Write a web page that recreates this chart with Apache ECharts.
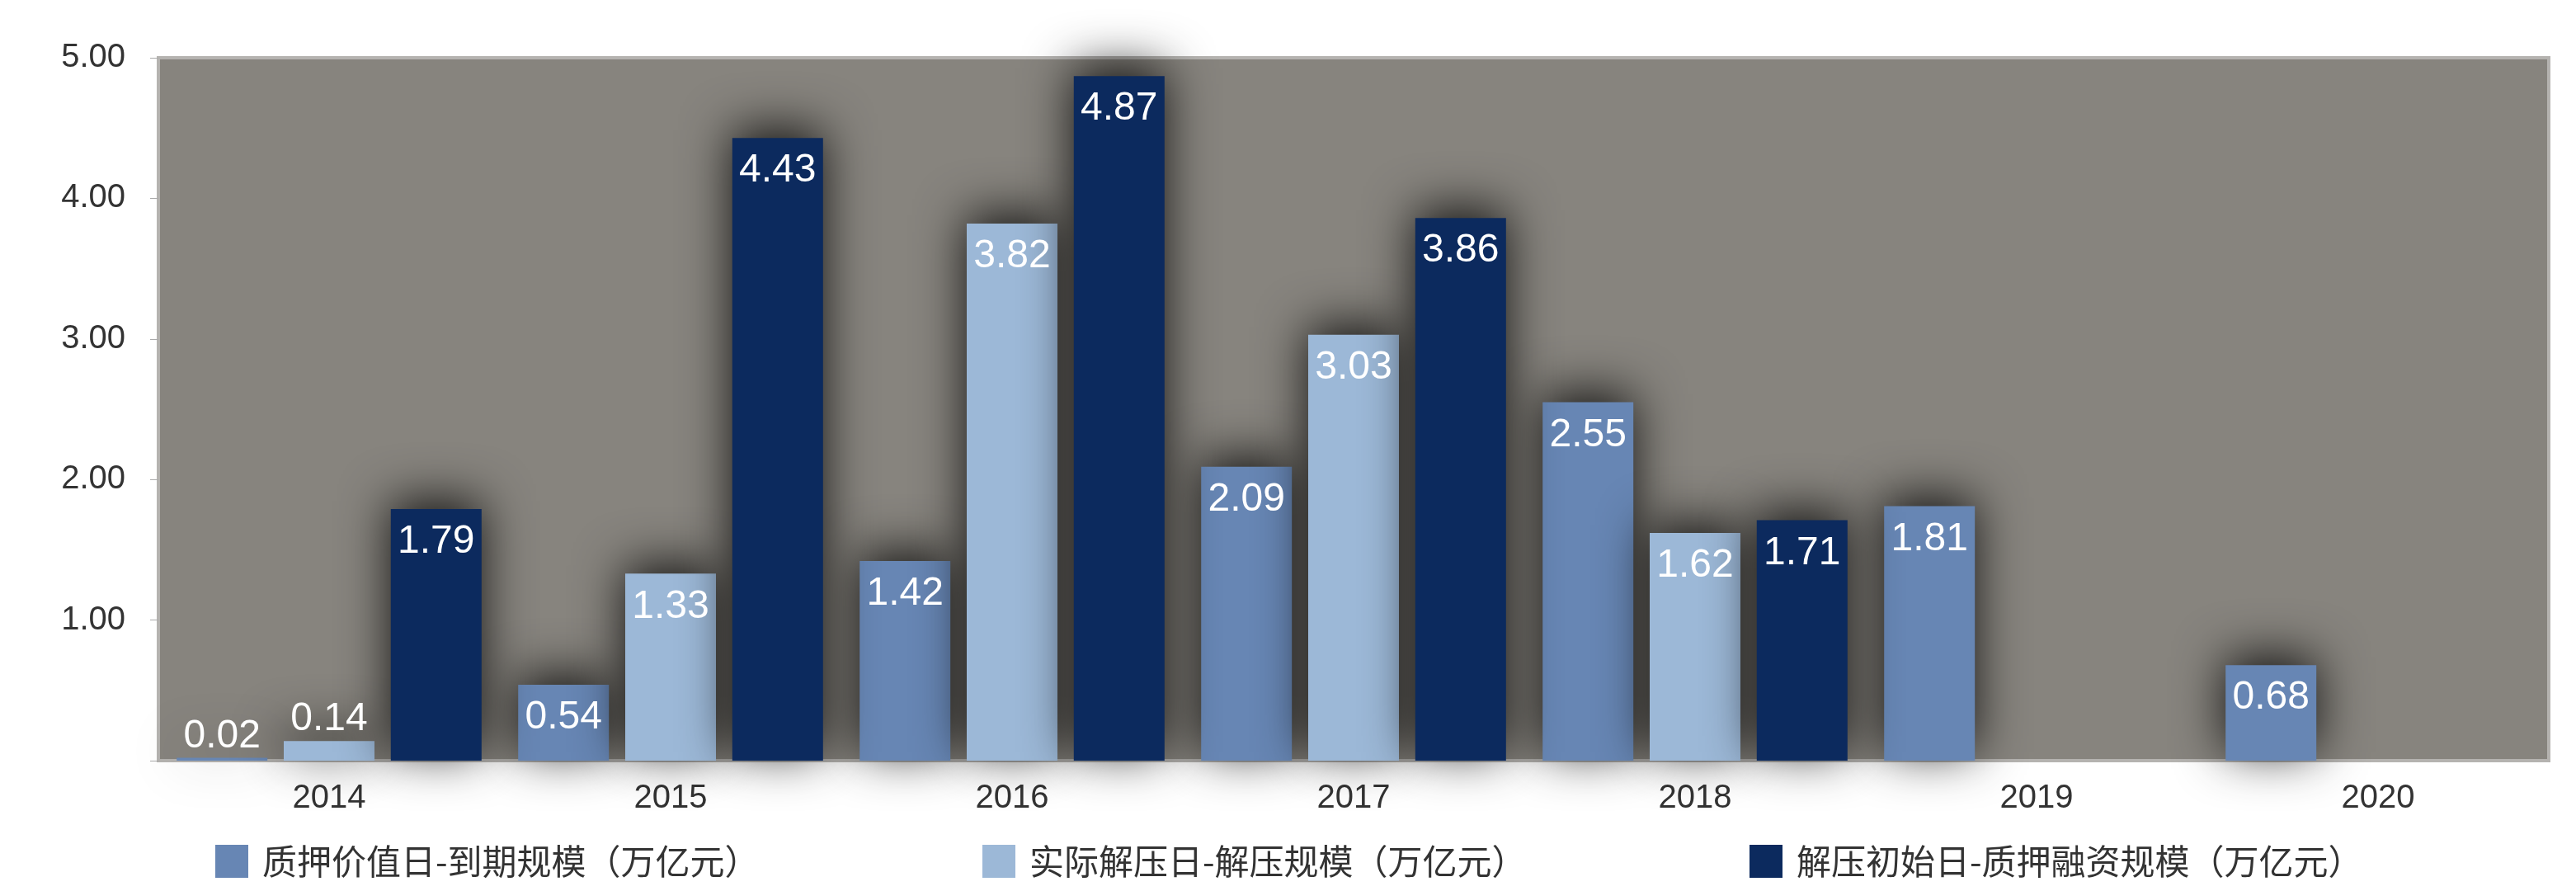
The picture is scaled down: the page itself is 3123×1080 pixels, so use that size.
<!DOCTYPE html>
<html><head><meta charset="utf-8">
<script src="https://cdn.jsdelivr.net/npm/echarts@6/dist/echarts.min.js"></script>
<style>html,body{margin:0;background:#fff}#c{width:3123px;height:1080px}</style>
</head><body><div id="c"></div>
<script>
const categories = ['2014','2015','2016','2017','2018','2019','2020'];
const seriesNames = ['质押价值日-到期规模（万亿元）','实际解压日-解压规模（万亿元）','解压初始日-质押融资规模（万亿元）'];
const maturity = [0.02, 0.54, 1.42, 2.09, 2.55, 1.81, 0.68];
const released = [0.14, 1.33, 3.82, 3.03, 1.62, null, null];
const initial = [1.79, 4.43, 4.87, 3.86, 1.71, null, null];
const colors = ['#6786b4','#9cb8d7','#0c2a5e'];
const chart = echarts.init(document.getElementById('c'));
function mk(i, arr){
  return {
    name: seriesNames[i], type:'bar', data: arr.map(v => v === null ? null : (v < 0.3 ? {value:v, label:{position:'top', distance:2}} : v)),
    barWidth:110, barGap:'18%',
    itemStyle:{color:colors[i], shadowBlur:60, shadowColor:'rgba(0,0,0,0.85)', shadowOffsetY:-10},
    label:{show:true, position:'insideTop', distance:16, color:'#fff', fontSize:48, fontFamily:'Liberation Sans, Arial', formatter: p => p.value.toFixed(2)}
  };
}
const legBase = {icon:'rect', itemWidth:40, itemHeight:40, bottom:10, textStyle:{fontSize:42, color:'#333', fontFamily:'Noto Sans CJK SC', padding:[0,0,0,12]}};
chart.setOption({
  animation:false,
  grid:{left:192, right:33, top:70, bottom:158, show:true, backgroundColor:'#87847e', borderColor:'#b5b3b0', borderWidth:4},
  legend:[
    Object.assign({left:256, data:[seriesNames[0]]}, legBase),
    Object.assign({left:1186, data:[seriesNames[1]]}, legBase),
    Object.assign({left:2116, data:[seriesNames[2]]}, legBase)
  ],
  xAxis:{type:'category', data:categories, axisLine:{show:false}, axisTick:{show:false},
    axisLabel:{fontSize:40, color:'#333', margin:26, fontFamily:'Liberation Sans, Arial'}},
  yAxis:{type:'value', min:0, max:5, interval:1, splitLine:{show:false},
    axisLine:{show:false}, axisTick:{show:true, length:10, lineStyle:{color:'#aaa'}},
    axisLabel:{fontSize:40, color:'#333', margin:40, fontFamily:'Liberation Sans, Arial', formatter: v => v === 0 ? '' : v.toFixed(2)}},
  series:[mk(0,maturity), mk(1,released), mk(2,initial)]
});
</script></body></html>
